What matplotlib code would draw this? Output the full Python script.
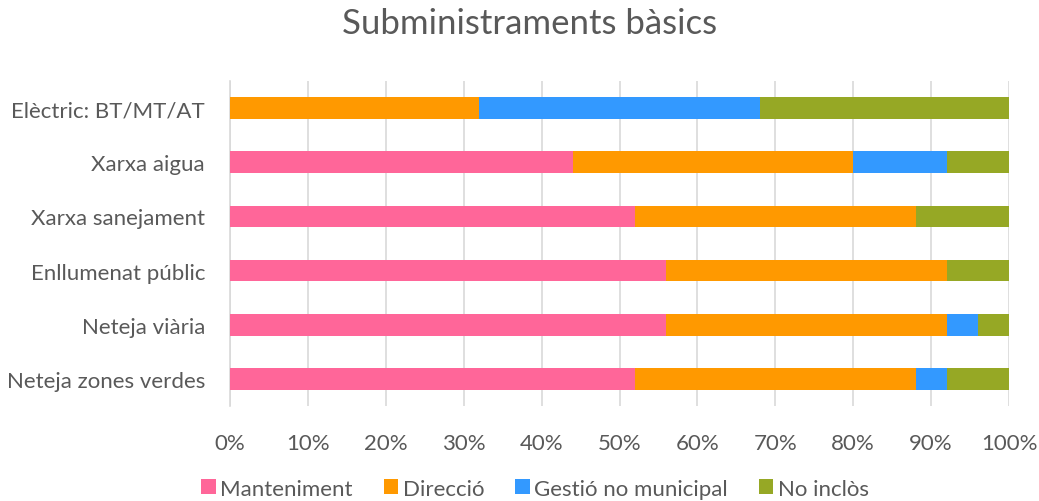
import matplotlib
matplotlib.use('Agg')
import matplotlib.pyplot as plt
import numpy as np
from matplotlib.ticker import FuncFormatter

plt.rcParams['font.family'] = ['Lato', 'DejaVu Sans']

categories = ['Elèctric: BT/MT/AT', 'Xarxa aigua', 'Xarxa sanejament',
              'Enllumenat públic', 'Neteja viària', 'Neteja zones verdes']
manteniment = [0, 44, 52, 56, 56, 52]
direccio = [32, 36, 36, 36, 36, 36]
gestio = [36, 12, 0, 0, 4, 4]
no_inclos = [32, 8, 12, 8, 4, 8]

series = [manteniment, direccio, gestio, no_inclos]
labels = ['Manteniment', 'Direcció', 'Gestió no municipal', 'No inclòs']
colors = ['#FF6699', '#FF9900', '#3399FF', '#96A825']
text_col = '#595959'

fig = plt.figure(figsize=(10.39, 5.02), dpi=100)
ax = fig.add_axes([0.2214, 0.189, 0.7497, 0.6477])

y = np.arange(len(categories))
left = np.zeros(len(categories))
for vals, lab, col in zip(series, labels, colors):
    vals = np.array(vals, dtype=float)
    ax.barh(y, vals, left=left, height=0.4, color=col, label=lab, zorder=3)
    left += vals

ax.set_xlim(0, 100)
ax.set_ylim(len(categories) - 0.5, -0.5)
ax.set_xticks(np.arange(0, 101, 10))
ax.xaxis.set_major_formatter(FuncFormatter(lambda v, p: '%d%%' % v))
ax.set_yticks(y)
ax.set_yticklabels(categories)
ax.grid(axis='x', color='#D9D9D9', linewidth=1.2, zorder=0)
for s in ['top', 'right', 'bottom']:
    ax.spines[s].set_visible(False)
ax.spines['left'].set_color('#D9D9D9')
ax.spines['left'].set_linewidth(1.2)
ax.tick_params(axis='both', length=0, colors=text_col, labelsize=16)
ax.tick_params(axis='x', pad=19)
ax.tick_params(axis='y', pad=18)

fig.suptitle('Subministraments bàsics', x=0.51, y=0.985, fontsize=25, color=text_col)

leg = fig.legend(loc='lower center', bbox_to_anchor=(0.515, -0.035), ncol=4, frameon=False,
                 fontsize=16, handlelength=0.65, handleheight=0.65, handletextpad=0.2,
                 columnspacing=1.4)
for t in leg.get_texts():
    t.set_color(text_col)

fig.savefig('out.png', dpi=100)
